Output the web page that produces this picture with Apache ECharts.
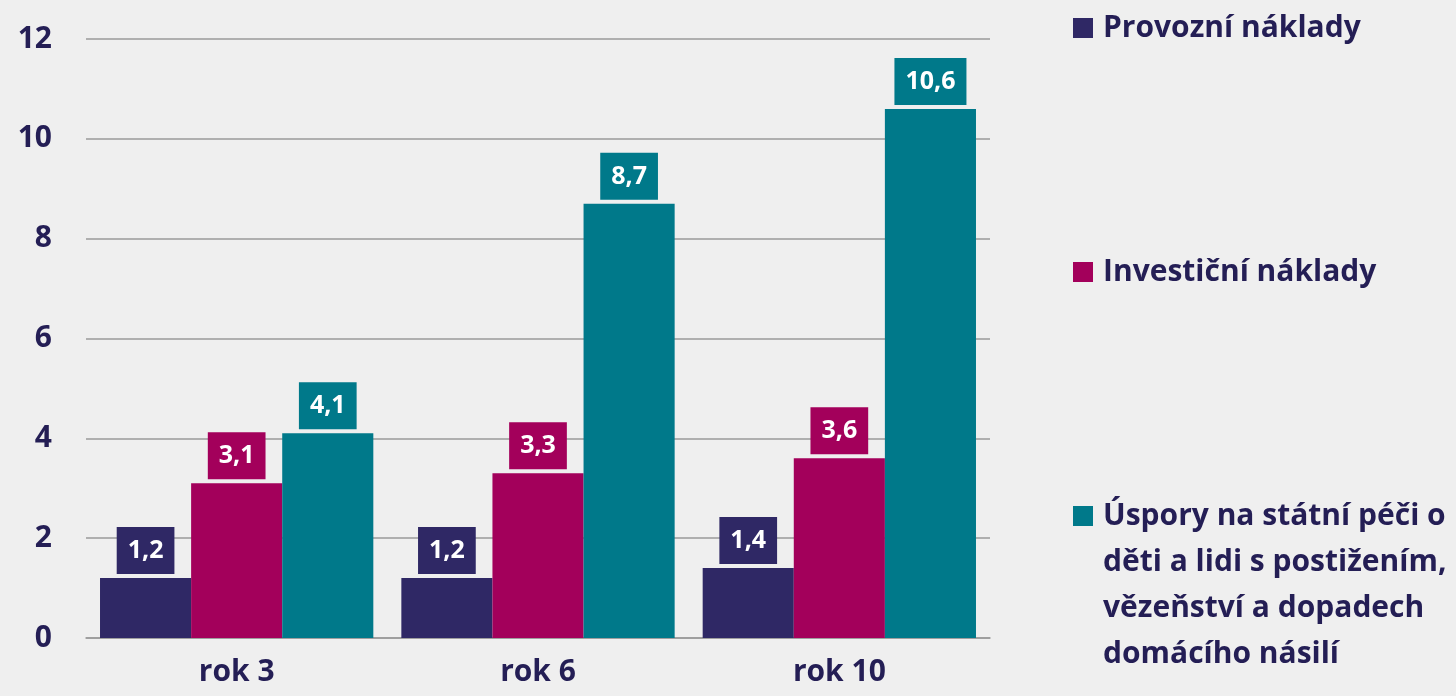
<!DOCTYPE html>
<html>
<head>
<meta charset="utf-8">
<script src="https://cdn.jsdelivr.net/npm/echarts@6/dist/echarts.min.js"></script>
<style>
  html, body { margin: 0; padding: 0; background: #efefef; }
  #chart { width: 1456px; height: 696px; }
</style>
</head>
<body>
<div id="chart"></div>
<script>
// Categories (years) and the three series, values in billions
const categories = ['rok 3', 'rok 6', 'rok 10'];
const provozni = [1.2, 1.2, 1.4];
const investicni = [3.1, 3.3, 3.6];
const uspory = [4.1, 8.7, 10.6];

const seriesNames = [
  'Provozní náklady',
  'Investiční náklady',
  'Úspory na státní péči o děti a lidi s postižením, vězeňství a dopadech domácího násilí'
];
// Wrapped lines for the legend entries
const legendLines = [
  ['Provozní náklady'],
  ['Investiční náklady'],
  ['Úspory na státní péči o', 'děti a lidi s postižením,', 'vězeňství a dopadech', 'domácího násilí']
];
const yTicks = { min: 0, max: 12, interval: 2 };

const colors = ['#2f2865', '#a3005b', '#00798a'];
const textColor = '#241e55';
const font = '"Open Sans", "Noto Sans", sans-serif';

const chart = echarts.init(document.getElementById('chart'));

function fmt(v) {
  return v.toFixed(1).replace('.', ',');
}

function barSeries(name, data, idx) {
  return {
    name: name,
    type: 'bar',
    data: data,
    barGap: '0%',
    barCategoryGap: '9.3%',
    itemStyle: { color: colors[idx] },
    label: {
      show: true,
      position: 'top',
      distance: 4,
      formatter: p => fmt(p.value),
      backgroundColor: colors[idx],
      color: '#ffffff',
      fontFamily: font,
      fontWeight: 'bold',
      fontSize: 25,
      lineHeight: 28,
      padding: [10, 11, 9, 11]
    }
  };
}

const rich = {
  t: { fontFamily: font, fontWeight: 'bold', fontSize: 30, color: textColor, lineHeight: 46 },
  gap: { width: 10, height: 20 },
  ind: { width: 30, height: 20 }
};
colors.forEach((c, i) => {
  rich['sq' + i] = { width: 20, height: 20, backgroundColor: c };
});

// One legend block per series so each entry sits at its own height
const legendTops = [0, 244, 488];
const legends = seriesNames.map((name, i) => ({
  orient: 'vertical',
  left: 1063,
  top: legendTops[i],
  icon: 'none',
  itemWidth: 0,
  itemHeight: 20,
  selectedMode: false,
  data: [name],
  formatter: n => {
    const idx = seriesNames.indexOf(n);
    return legendLines[idx].map((line, k) =>
      (k === 0 ? '{sq' + idx + '|}{gap|}' : '{ind|}') + '{t|' + line + '}'
    ).join('\n');
  },
  textStyle: { rich: rich, lineHeight: 46 }
}));

chart.setOption({
  backgroundColor: '#efefef',
  animation: false,
  grid: { left: 86, right: 466, top: 39, bottom: 58, containLabel: false },
  legend: legends,
  xAxis: {
    type: 'category',
    data: categories,
    axisTick: { show: false },
    axisLine: { show: true, lineStyle: { color: '#9a9a9a', width: 1.5 } },
    axisLabel: {
      color: textColor,
      fontFamily: font,
      fontWeight: 'bold',
      fontSize: 30,
      margin: 19
    }
  },
  yAxis: {
    type: 'value',
    min: yTicks.min,
    max: yTicks.max,
    interval: yTicks.interval,
    axisLine: { show: false },
    axisTick: { show: false },
    splitLine: { lineStyle: { color: '#9a9a9a', width: 1.5 } },
    axisLabel: {
      color: textColor,
      fontFamily: font,
      fontWeight: 'bold',
      fontSize: 30,
      margin: 34
    }
  },
  series: [
    barSeries(seriesNames[0], provozni, 0),
    barSeries(seriesNames[1], investicni, 1),
    barSeries(seriesNames[2], uspory, 2)
  ]
});
</script>
</body>
</html>
